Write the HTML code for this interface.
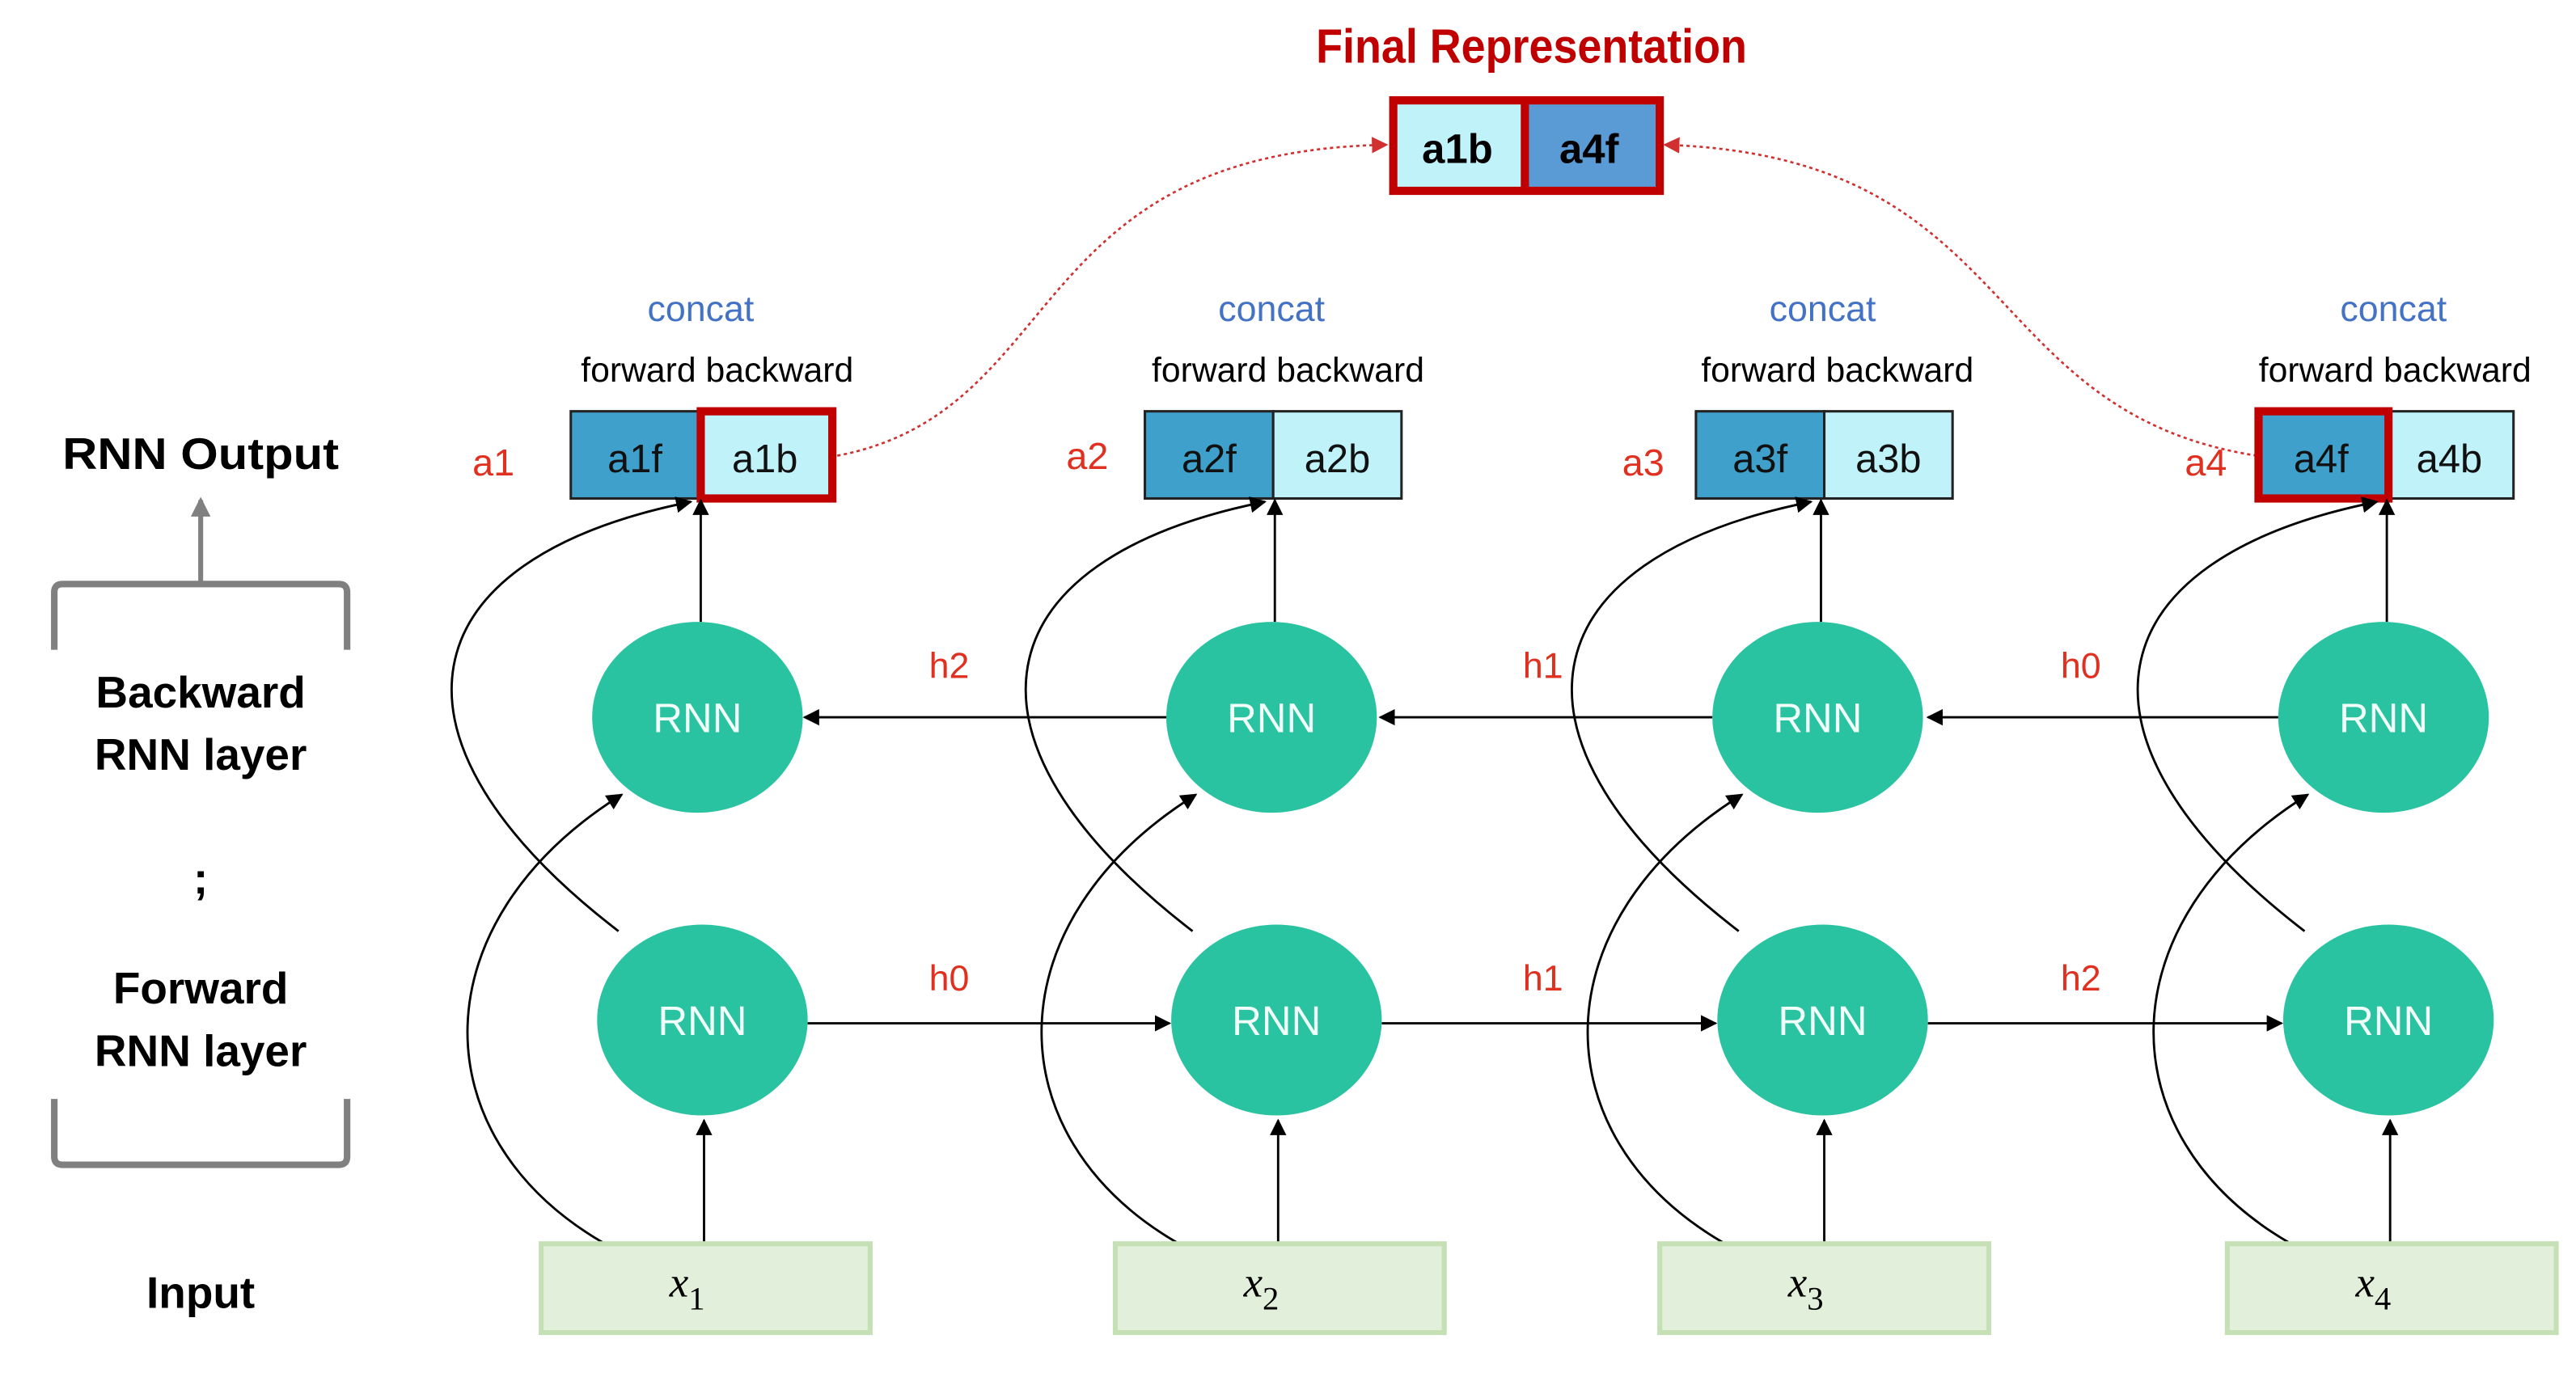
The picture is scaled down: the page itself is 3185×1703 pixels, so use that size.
<!DOCTYPE html>
<html><head><meta charset="utf-8"><style>
html,body{margin:0;padding:0;background:#fff;}
svg{display:block;}
text{font-family:"Liberation Sans",sans-serif;}
</style></head><body>
<svg width="3185" height="1703" viewBox="0 0 1566 837" preserveAspectRatio="none" xmlns="http://www.w3.org/2000/svg">
<defs>
<marker id="ar" markerWidth="10" markerHeight="10" refX="9" refY="5" orient="auto" markerUnits="userSpaceOnUse"><path d="M0,0 L10,5 L0,10 z" fill="#000"/></marker>
<marker id="arg" markerWidth="12" markerHeight="12" refX="10" refY="6" orient="auto" markerUnits="userSpaceOnUse"><path d="M0,0 L12,6 L0,12 z" fill="#808080"/></marker>
<marker id="arr" markerWidth="10" markerHeight="10" refX="9" refY="5" orient="auto" markerUnits="userSpaceOnUse"><path d="M0,0 L10,5 L0,10 z" fill="#d03030"/></marker>
</defs>
<rect width="1566" height="837" fill="#fff"/>

<text x="931" y="38" text-anchor="middle" font-size="29" font-weight="bold" fill="#c00000" textLength="262" lengthAdjust="spacingAndGlyphs">Final Representation</text>
<rect x="847" y="61" width="80" height="55" fill="#c0f2fa"/>
<rect x="927" y="61" width="82" height="55" fill="#5b9bd5"/>
<rect x="847" y="61" width="162" height="55" fill="none" stroke="#c00000" stroke-width="5"/>
<line x1="927" y1="61" x2="927" y2="116" stroke="#c00000" stroke-width="5"/>
<text x="886" y="99" text-anchor="middle" font-size="25" font-weight="bold">a1b</text>
<text x="966" y="99" text-anchor="middle" font-size="25" font-weight="bold">a4f</text>

<path d="M509,277 C650,250 620,92 843,88" fill="none" stroke="#d03030" stroke-width="1.3" stroke-dasharray="2,2" marker-end="url(#arr)"/>
<path d="M1372,277 C1200,250 1230,95 1012,88" fill="none" stroke="#d03030" stroke-width="1.3" stroke-dasharray="2,2" marker-end="url(#arr)"/>

<g font-size="22" text-anchor="middle">
<text x="426" y="195" fill="#4472c4">concat</text>
<text x="773" y="195" fill="#4472c4">concat</text>
<text x="1108" y="195" fill="#4472c4">concat</text>
<text x="1455" y="195" fill="#4472c4">concat</text>
<text x="436" y="232" font-size="21">forward backward</text>
<text x="783" y="232" font-size="21">forward backward</text>
<text x="1117" y="232" font-size="21">forward backward</text>
<text x="1456" y="232" font-size="21">forward backward</text>
</g>

<g stroke="#222" stroke-width="1.5">
<rect x="347" y="250" width="78" height="53" fill="#3fa0cc"/><rect x="425" y="250" width="82" height="53" fill="#c0f2fa"/>
<rect x="696" y="250" width="78" height="53" fill="#3fa0cc"/><rect x="774" y="250" width="78" height="53" fill="#c0f2fa"/>
<rect x="1031" y="250" width="78" height="53" fill="#3fa0cc"/><rect x="1109" y="250" width="78" height="53" fill="#c0f2fa"/>
<rect x="1372" y="250" width="79" height="53" fill="#3fa0cc"/><rect x="1451" y="250" width="77" height="53" fill="#c0f2fa"/>
</g>
<rect x="426" y="250" width="80" height="53" fill="none" stroke="#c00000" stroke-width="5"/>
<rect x="1373" y="250" width="79" height="53" fill="none" stroke="#c00000" stroke-width="5"/>
<g font-size="24" text-anchor="middle" fill="#111">
<text x="386" y="287">a1f</text><text x="465" y="287">a1b</text>
<text x="735" y="287">a2f</text><text x="813" y="287">a2b</text>
<text x="1070" y="287">a3f</text><text x="1148" y="287">a3b</text>
<text x="1411" y="287">a4f</text><text x="1489" y="287">a4b</text>
</g>
<g font-size="23" text-anchor="middle" fill="#e03020">
<text x="300" y="289">a1</text><text x="661" y="285">a2</text><text x="999" y="289">a3</text><text x="1341" y="289">a4</text>
</g>

<g stroke="#000" stroke-width="1.4" fill="none">
<line x1="1385" y1="436" x2="1172" y2="436" marker-end="url(#ar)"/>
<line x1="1041" y1="436" x2="839" y2="436" marker-end="url(#ar)"/>
<line x1="709" y1="436" x2="489" y2="436" marker-end="url(#ar)"/>
<line x1="491" y1="622" x2="711" y2="622" marker-end="url(#ar)"/>
<line x1="840" y1="622" x2="1043" y2="622" marker-end="url(#ar)"/>
<line x1="1172" y1="622" x2="1387" y2="622" marker-end="url(#ar)"/>
</g>
<g id="col" stroke="#000" stroke-width="1.4" fill="none">
<line x1="428" y1="755" x2="428" y2="681" marker-end="url(#ar)"/>
<line x1="426" y1="378" x2="426" y2="304" marker-end="url(#ar)"/>
<path d="M366,755 C255,690 255,560 378,483" marker-end="url(#ar)"/>
<path d="M376,566 C225,450 245,340 420,305" marker-end="url(#ar)"/>
</g>
<use href="#col" x="349"/>
<use href="#col" x="681"/>
<use href="#col" x="1025"/>

<g font-size="22" text-anchor="middle" fill="#e03020">
<text x="577" y="412">h2</text><text x="938" y="412">h1</text><text x="1265" y="412">h0</text>
<text x="577" y="602">h0</text><text x="938" y="602">h1</text><text x="1265" y="602">h2</text>
</g>

<g fill="#29c3a1">
<ellipse cx="424" cy="436" rx="64" ry="58"/><ellipse cx="773" cy="436" rx="64" ry="58"/>
<ellipse cx="1105" cy="436" rx="64" ry="58"/><ellipse cx="1449" cy="436" rx="64" ry="58"/>
<ellipse cx="427" cy="620" rx="64" ry="58"/><ellipse cx="776" cy="620" rx="64" ry="58"/>
<ellipse cx="1108" cy="620" rx="64" ry="58"/><ellipse cx="1452" cy="620" rx="64" ry="58"/>
</g>
<g font-size="25" fill="#f0fff8" text-anchor="middle">
<text x="424" y="445">RNN</text><text x="773" y="445">RNN</text><text x="1105" y="445">RNN</text><text x="1449" y="445">RNN</text>
<text x="427" y="629">RNN</text><text x="776" y="629">RNN</text><text x="1108" y="629">RNN</text><text x="1452" y="629">RNN</text>
</g>

<g fill="#e2efda" stroke="#c5e0b4" stroke-width="3">
<rect x="329" y="756" width="200" height="54"/><rect x="678" y="756" width="200" height="54"/>
<rect x="1009" y="756" width="200" height="54"/><rect x="1354" y="756" width="200" height="54"/>
</g>
<g font-size="26" font-style="italic">
<text x="407" y="788" style="font-family:'Liberation Serif',serif">x<tspan font-style="normal" font-size="20" dy="8">1</tspan></text>
<text x="756" y="788" style="font-family:'Liberation Serif',serif">x<tspan font-style="normal" font-size="20" dy="8">2</tspan></text>
<text x="1087" y="788" style="font-family:'Liberation Serif',serif">x<tspan font-style="normal" font-size="20" dy="8">3</tspan></text>
<text x="1432" y="788" style="font-family:'Liberation Serif',serif">x<tspan font-style="normal" font-size="20" dy="8">4</tspan></text>
</g>

<g font-size="27" font-weight="bold" text-anchor="middle" fill="#000">
<text x="122" y="285" textLength="168" lengthAdjust="spacingAndGlyphs">RNN Output</text>
<text x="122" y="430">Backward</text>
<text x="122" y="468">RNN layer</text>
<text x="122" y="543">;</text>
<text x="122" y="610">Forward</text>
<text x="122" y="648">RNN layer</text>
<text x="122" y="795">Input</text>
</g>
<line x1="122" y1="355" x2="122" y2="304" stroke="#808080" stroke-width="3" marker-end="url(#arg)"/>
<path d="M33,395 L33,360 Q33,355 38,355 L206,355 Q211,355 211,360 L211,395" fill="none" stroke="#808080" stroke-width="4"/>
<path d="M33,668 L33,703 Q33,708 38,708 L206,708 Q211,708 211,703 L211,668" fill="none" stroke="#808080" stroke-width="4"/>
</svg>
</body></html>
